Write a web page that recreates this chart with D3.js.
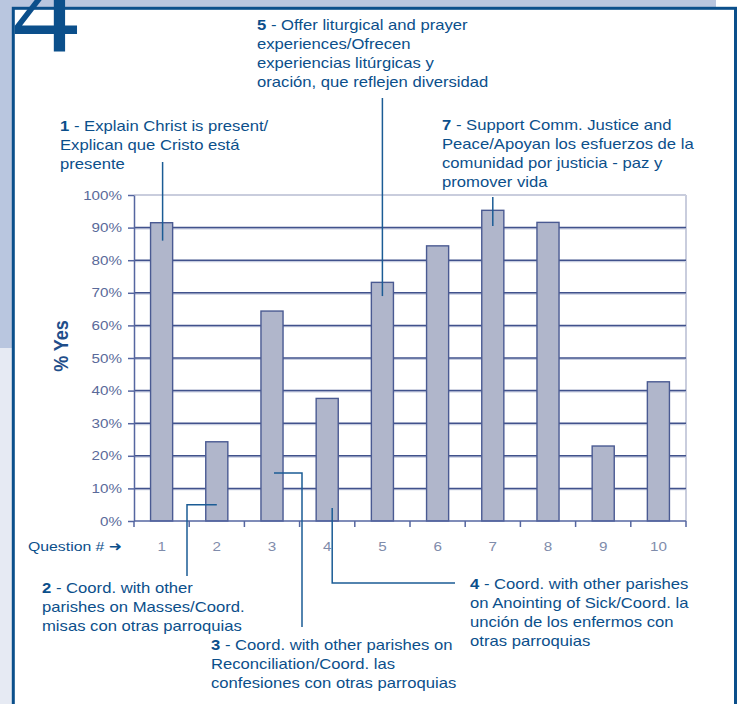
<!DOCTYPE html>
<html><head><meta charset="utf-8">
<script src="https://cdn.jsdelivr.net/npm/d3@7"></script>
<style>
html,body{margin:0;padding:0;background:#fff;}
svg{display:block;}
text{font-family:"Liberation Sans",Arial,sans-serif;}
</style></head>
<body>
<script>
const categories = ["1","2","3","4","5","6","7","8","9","10"];
const values = [0.915, 0.243, 0.644, 0.376, 0.732, 0.844, 0.953, 0.916, 0.230, 0.427];
const yTicks = [0,0.1,0.2,0.3,0.4,0.5,0.6,0.7,0.8,0.9,1.0];
const notes = [
  {q:"1", at:0.86, num:"1", lines:[" - Explain Christ is present/","Explican que Cristo está","presente"]},
  {q:"5", at:0.69, num:"5", lines:[" - Offer liturgical and prayer","experiences/Ofrecen","experiencias litúrgicas y","oración, que reflejen diversidad"]},
  {q:"7", at:0.905, num:"7", lines:[" - Support Comm. Justice and","Peace/Apoyan los esfuerzos de la","comunidad por justicia - paz y","promover vida"]},
  {q:"2", at:0.05, num:"2", lines:[" - Coord. with other","parishes on Masses/Coord.","misas con otras parroquias"]},
  {q:"3", at:0.147, num:"3", lines:[" - Coord. with other parishes on","Reconciliation/Coord. las","confesiones con otras parroquias"]},
  {q:"4", at:0.04, num:"4", lines:[" - Coord. with other parishes","on Anointing of Sick/Coord. la","unción de los enfermos con","otras parroquias"]}
];

(function(){
const W = 742, H = 704;
const SX = 1.17, SXA = 1.19;
const svg = d3.select("body").append("svg").attr("width", W).attr("height", H);
const navy = "#0b4f8b";

svg.append("rect").attr("x",0).attr("y",0).attr("width",W).attr("height",H).attr("fill","#fff");
svg.append("rect").attr("x",0).attr("y",0).attr("width",716).attr("height",10).attr("fill","#b9c6df");
svg.append("rect").attr("x",0).attr("y",0).attr("width",13).attr("height",348).attr("fill","#b9c6df");
svg.append("rect").attr("x",0).attr("y",348).attr("width",13).attr("height",H-348).attr("fill","#e6eaf3");
svg.append("rect").attr("x",13.3).attr("y",8.3).attr("width",722.2).attr("height",H+20)
  .attr("fill","#fff").attr("stroke",navy).attr("stroke-width",3);

svg.append("text").attr("transform","translate(12,52) scale(1.1,1)").text("4")
  .style("font-family","'Liberation Serif','Times New Roman',serif")
  .style("font-size","122px").attr("fill",navy);

const pL = 134, pR = 686, pT = 195, pB = 521;
const x = d3.scaleBand().domain(categories).range([pL,pR]).paddingInner(0.6).paddingOuter(0.3);
const y = d3.scaleLinear().domain([0,1]).range([pB,pT]);
const g = svg.append("g");

g.append("line").attr("x1",pL).attr("x2",pR).attr("y1",y(1)).attr("y2",y(1)).attr("stroke","#c9cddd").attr("stroke-width",2);
g.append("line").attr("x1",pR).attr("x2",pR).attr("y1",y(1)).attr("y2",y(0)).attr("stroke","#c9cddd").attr("stroke-width",2);

yTicks.filter(t => t>0 && t<1).forEach(t => {
  g.append("line").attr("x1",pL).attr("x2",pR).attr("y1",y(t)+1.2).attr("y2",y(t)+1.2).attr("stroke","#c7cde0").attr("stroke-width",1.5);
  g.append("line").attr("x1",pL).attr("x2",pR).attr("y1",y(t)).attr("y2",y(t)).attr("stroke","#41528c").attr("stroke-width",1.5);
});

g.selectAll("rect.bar").data(categories).enter().append("rect").attr("class","bar")
  .attr("x", d => x(d)).attr("width", x.bandwidth())
  .attr("y", (d,i) => y(values[i])).attr("height", (d,i) => y(0)-y(values[i]))
  .attr("fill","#b0b6cb").attr("stroke","#4a5a92").attr("stroke-width",1.4);

const yAxis = d3.axisLeft(y).tickValues(yTicks).tickFormat(d3.format(".0%")).tickSize(6).tickSizeOuter(0);
const ya = g.append("g").attr("transform",`translate(${pL},0)`).call(yAxis);
ya.select(".domain").attr("stroke","#5566a0").attr("stroke-width",1.5);
ya.selectAll(".tick line").attr("stroke","#5566a0").attr("stroke-width",1.5);
ya.selectAll(".tick text").attr("fill","#5a6a9a").style("font-size","13px")
  .style("font-family","'Liberation Sans',Arial,sans-serif").attr("x",0)
  .attr("transform",`translate(-12,0) scale(${SX},1)`);

g.append("line").attr("x1",pL).attr("x2",pR).attr("y1",y(0)).attr("y2",y(0)).attr("stroke","#5566a0").attr("stroke-width",1.5);
const step = x.step();
d3.range(categories.length+1).forEach(i => {
  const xx = pL + i*step;
  g.append("line").attr("x1",xx).attr("x2",xx).attr("y1",y(0)).attr("y2",y(0)+6).attr("stroke","#5566a0").attr("stroke-width",1.5);
});
g.selectAll("text.xl").data(categories).enter().append("text").attr("class","xl")
  .attr("transform", d => `translate(${x(d)+x.bandwidth()/2},${y(0)+30}) scale(${SX},1)`).attr("text-anchor","middle")
  .attr("fill","#7f8cab").style("font-size","13px").text(d => d);

const qt = svg.append("text").attr("transform",`translate(28,${y(0)+30}) scale(${SX},1)`).attr("fill",navy).style("font-size","13.5px");
qt.append("tspan").text("Question # ");
qt.append("tspan").style("font-family","'DejaVu Sans'").style("font-size","13.5px").style("font-weight","bold").text("➜");

svg.append("text").attr("transform",`translate(68,346) rotate(-90) scale(1,${SX})`).attr("text-anchor","middle")
  .attr("fill","#1f4e8a").style("font-size","18px").style("font-weight","bold").text("% Yes");

const lh = 19;
const pos = {
  "1": {tx:60, ty:131, path: (cx,cy) => [[cx+1,162],[cx+1,cy]]},
  "5": {tx:257, ty:30, path: (cx,cy) => [[cx,98],[cx,cy]]},
  "7": {tx:442, ty:130, path: (cx,cy) => [[cx,197],[cx,cy]]},
  "2": {tx:42, ty:593, path: (cx,cy) => [[cx,cy],[187,cy],[187,576]]},
  "3": {tx:211, ty:650, path: (cx,cy) => [[cx+2,cy],[302,cy],[302,627]]},
  "4": {tx:470, ty:589, path: (cx,cy) => [[cx+5,cy],[cx+5,583],[455,583]]}
};
notes.forEach(n => {
  const p = pos[n.q];
  const cx = x(n.q)+x.bandwidth()/2, cy = y(n.at);
  svg.append("path").attr("d", d3.line()(p.path(cx,cy))).attr("fill","none").attr("stroke","#1b5c95").attr("stroke-width",1.5);
  const t = svg.append("text").attr("transform",`translate(${p.tx},${p.ty}) scale(${SXA},1)`).attr("fill",navy).style("font-size","14px");
  n.lines.forEach((l,i) => {
    const ts = t.append("tspan").attr("x",0).attr("y",i*lh);
    if(i===0){ ts.append("tspan").style("font-weight","bold").text(n.num); ts.append("tspan").text(l); }
    else ts.text(l);
  });
});
})();
</script>
</body></html>
